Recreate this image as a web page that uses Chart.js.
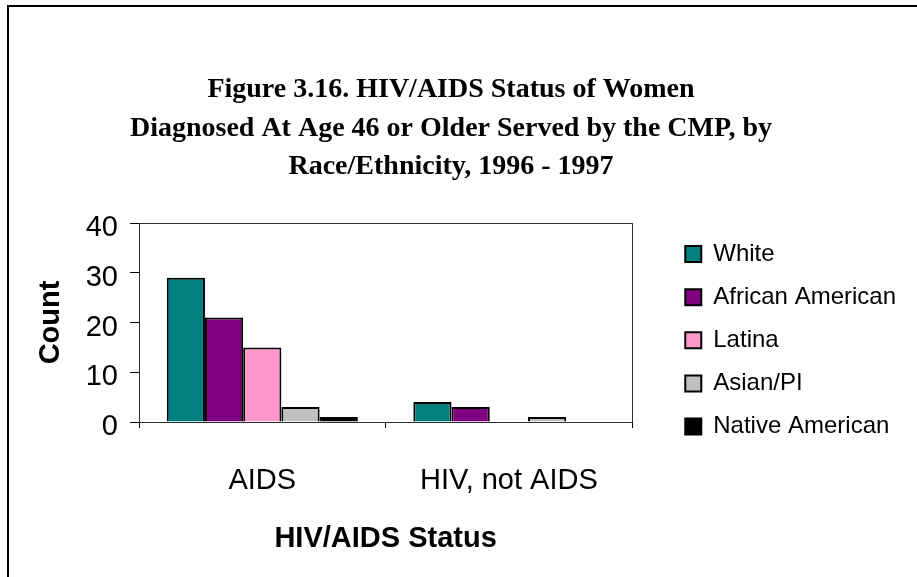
<!DOCTYPE html>
<html>
<head>
<meta charset="utf-8">
<script src="https://cdn.jsdelivr.net/npm/chart.js@4/dist/chart.umd.min.js"></script>
<style>
  html, body { margin: 0; padding: 0; background: #fff; overflow: hidden; }
  #wrap { position: relative; width: 917px; height: 577px; }
  #frame {
    position: absolute; left: 7px; top: 5px; width: 1000px; height: 1000px;
    border: 2px solid #000; pointer-events: none;
  }
  canvas { position: absolute; left: 0; top: 0; }
</style>
</head>
<body>
<div id="wrap">
  <canvas id="chart" width="917" height="577"></canvas>
  <div id="frame"></div>
</div>
<script>
// ---------- DATA ----------
const categories = ["AIDS", "HIV, not AIDS"];
const white = [29, 4];
const africanAmerican = [21, 3];
const latina = [15, 0];
const asianPI = [3, 1];
const nativeAmerican = [1, 0];
const yTicks = [0, 10, 20, 30, 40];

const titleLines = [
  "Figure 3.16. HIV/AIDS Status of Women",
  "Diagnosed At Age 46 or Older Served by the CMP, by",
  "Race/Ethnicity, 1996 - 1997"
];

const SANS = "Liberation Sans, Arial, sans-serif";

// ---------- PLOT BORDER ----------
const plotBorder = {
  id: "plotBorder",
  beforeDatasetsDraw(chart) {
    const a = chart.chartArea;
    const ctx = chart.ctx;
    ctx.save();
    ctx.strokeStyle = "#303030";
    ctx.lineWidth = 1;
    ctx.strokeRect(Math.round(a.left) + 0.5, Math.round(a.top) + 0.5,
      Math.round(a.right - a.left), Math.round(a.bottom - a.top));
    ctx.restore();
  }
};

// ---------- LEGEND PLACEMENT ----------
// keep the legend a bit away from the plot, top aligned with it
const legendPlace = {
  id: "legendPlace",
  afterLayout(chart) {
    const lg = chart.legend;
    const a = chart.chartArea;
    const w = lg.width;
    lg.left = a.right + 34;
    lg.right = lg.left + w;
    lg.top = a.top;
  }
};

function ds(label, data, color) {
  return {
    label: label,
    data: data,
    backgroundColor: color,
    borderColor: "#000",
    borderWidth: 2,
    barPercentage: 1,
    categoryPercentage: 0.775,
  };
}

const ctx = document.getElementById("chart").getContext("2d");

new Chart(ctx, {
  type: "bar",
  data: {
    labels: categories,
    datasets: [
      ds("White", white, "#008080"),
      ds("African American", africanAmerican, "#800080"),
      ds("Latina", latina, "#FF99CC"),
      ds("Asian/PI", asianPI, "#C0C0C0"),
      ds("Native American", nativeAmerican, "#000000"),
    ],
  },
  options: {
    responsive: false,
    animation: false,
    layout: { padding: { left: 30, right: 45, top: 12, bottom: 10 } },
    scales: {
      x: {
        offset: true,
        afterFit(axis) {
          axis.height = 145;
        },
        grid: {
          offset: true,
          drawOnChartArea: false,
          tickLength: 6,
          color: "#000",
        },
        border: { color: "#000", width: 1 },
        ticks: {
          color: "#000",
          padding: 36,
          font: { family: SANS, size: 29 },
        },
        title: {
          display: true,
          text: "HIV/AIDS Status",
          color: "#000",
          padding: { top: 0, bottom: 11 },
          font: { family: SANS, size: 29, weight: "bold" },
        },
      },
      y: {
        min: 0,
        max: 40,
        afterBuildTicks(axis) {
          axis.ticks = yTicks.map(v => ({ value: v }));
        },
        afterFit(axis) {
          axis.width = 109;
        },
        grid: {
          drawOnChartArea: false,
          tickLength: 9,
          color: "#000",
        },
        border: { color: "#000", width: 1 },
        ticks: {
          color: "#000",
          padding: 12,
          labelOffset: 5,
          font: { family: SANS, size: 29 },
        },
        title: {
          display: true,
          text: "Count",
          color: "#000",
          padding: { top: 4, bottom: 0 },
          font: { family: SANS, size: 29, weight: "bold" },
        },
      },
    },
    plugins: {
      title: {
        display: true,
        text: titleLines,
        color: "#000",
        padding: { top: 59, bottom: 36.5 },
        font: { family: "Liberation Serif, Times New Roman, serif", size: 28, weight: "bold", lineHeight: 1.375 },
      },
      legend: {
        position: "right",
        align: "start",
        maxWidth: 300,
        labels: {
          color: "#000",
          boxWidth: 16,
          boxHeight: 16,
          padding: 19.1,
          font: { family: SANS, size: 24 },
        },
      },
      tooltip: { enabled: false },
    },
  },
  plugins: [plotBorder, legendPlace],
});
</script>
</body>
</html>
